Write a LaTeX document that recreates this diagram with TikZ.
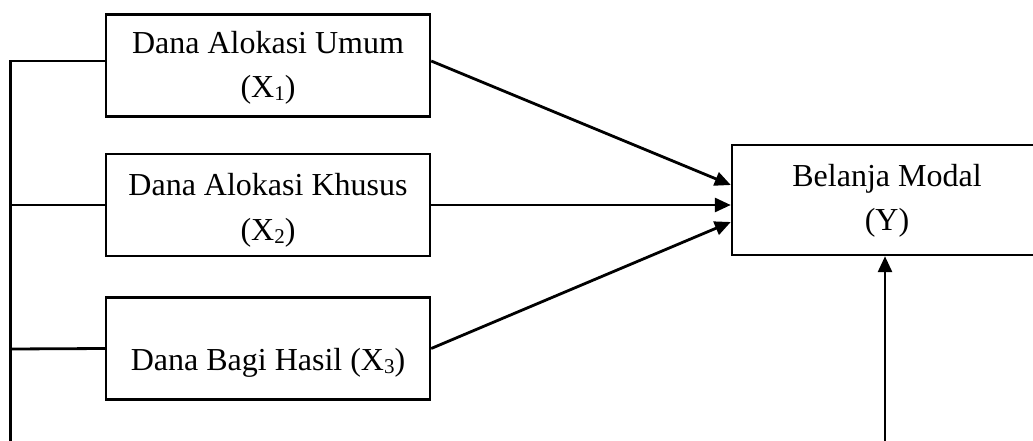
\documentclass[tikz,border=0pt]{standalone}
\usepackage{fontspec}
\setmainfont{Liberation Serif}
\usetikzlibrary{arrows.meta}
\newcommand{\mysub}[1]{\raisebox{-3pt}{\fontsize{21}{21}\selectfont #1}}
\begin{document}
\begin{tikzpicture}[x=1pt,y=-1pt,
  box/.style={draw=black,line width=2.4pt,minimum width=324pt,minimum height=102pt,inner sep=0pt},
  lbl/.style={anchor=base,inner sep=0pt,font=\fontsize{32}{44}\selectfont},
  conn/.style={line width=2.8pt},
  arr/.style={line width=2.8pt,-{Triangle[length=16pt,width=14pt]}}]
\useasboundingbox (0,0) rectangle (1033,441);
\clip (0,0) rectangle (1033,441);
% boxes
\node[box] (b1) at (268,65.5) {};
\node[box] (b2) at (268,205) {};
\node[box] (b3) at (268,348.5) {};
\node[box,minimum width=311pt,minimum height=110pt] (yb) at (887.5,200) {};
% labels
\node[lbl] (t1a) at (268,54) {Dana Alokasi Umum};
\node[lbl] (t1b) at (268,98) {(X\mysub{1})};
\node[lbl] (t2a) at (268,195) {Dana Alokasi Khusus};
\node[lbl] (t2b) at (268,240) {(X\mysub{2})};
\node[lbl] (t3) at (268,370) {Dana Bagi Hasil (X\mysub{3})};
\node[lbl] (tya) at (887,186) {Belanja Modal};
\node[lbl] (tyb) at (887,230) {(Y)};
% left bracket line
\coordinate (lt) at (10.7,61);
\coordinate (lb) at (10.7,445);
\coordinate (l2) at (10.7,205);
\coordinate (l3) at (10.7,349);
\draw[conn] (lb) -- (lt) -- ([yshift=4.5pt]b1.west);
\draw[conn] (l2) -- (b2.west);
\draw[conn] (l3) -- (b3.west);
% arrows into Y
\draw[arr] ([yshift=4.5pt]b1.east) -- ([yshift=15pt]yb.west);
\draw[arr] (b2.east) -- ([yshift=-5pt]yb.west);
\draw[arr] (b3.east) -- ([yshift=-22pt]yb.west);
% bottom arrow
\coordinate (bb) at (885,445);
\draw[arr] (bb) -- (bb |- yb.south);
\end{tikzpicture}
\end{document}
